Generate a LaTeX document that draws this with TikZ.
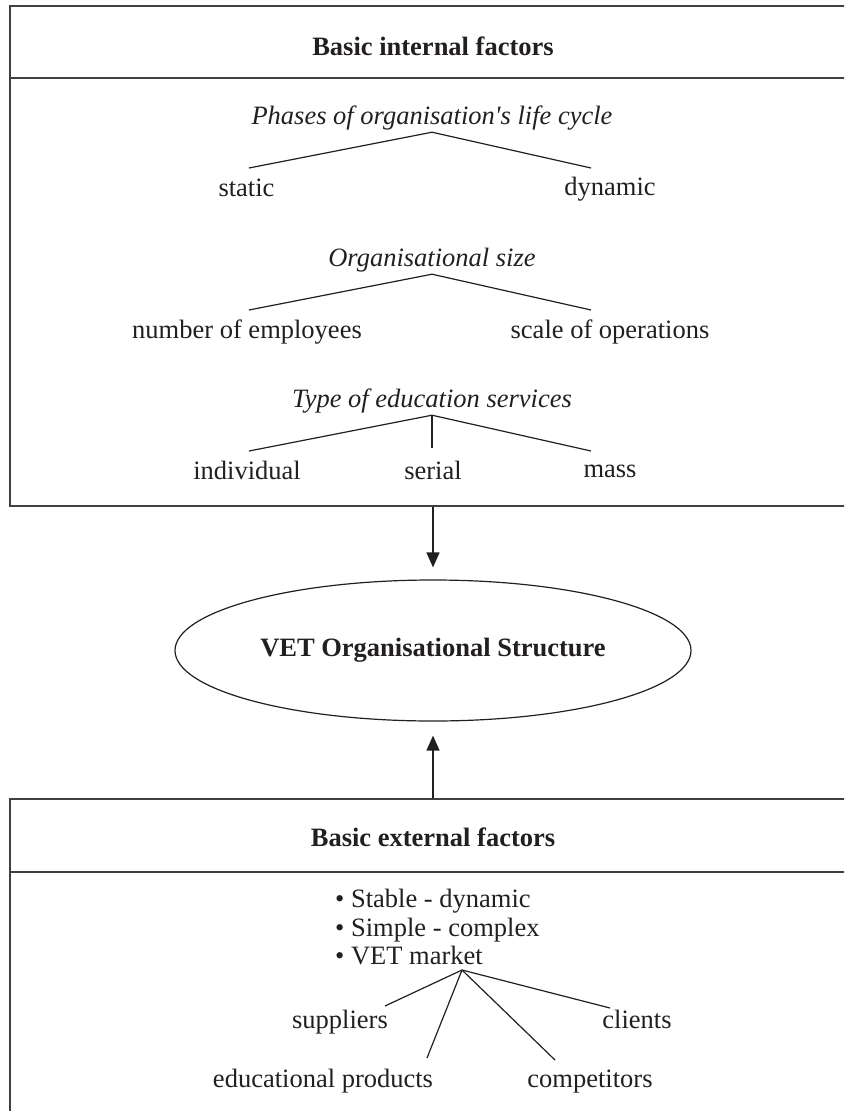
\documentclass[tikz,border=0pt]{standalone}
\usepackage{fontspec}
\setmainfont{Liberation Serif}[Ligatures=TeXOff]
\usetikzlibrary{arrows.meta,shapes.geometric}
\definecolor{ink}{HTML}{231F20}
\definecolor{frame}{HTML}{404040}
\begin{document}
\begin{tikzpicture}[x=1pt,y=-1pt,
  every node/.style={inner sep=0pt, text=ink, font=\fontsize{26.5pt}{32pt}\selectfont},
  panel/.style={draw=frame, line width=2pt, rectangle, minimum width=846pt},
  rule/.style={draw=frame, line width=2pt},
  head/.style={anchor=base, font=\fontsize{26.5pt}{32pt}\selectfont\bfseries},
  topic/.style={anchor=base, text depth=8pt, font=\fontsize{26.5pt}{32pt}\selectfont\itshape},
  leaf/.style={anchor=base},
  branch/.style={draw=ink, line width=1.2pt},
  flow/.style={draw=ink, line width=1.3pt, -{Triangle[length=15pt,width=13pt]}}
]
\useasboundingbox (0,0) rectangle (844,1111);
\clip (0,0) rectangle (844,1111);

% ---- internal factors panel ----
\node[panel, minimum height=500pt] (internal) at (433,256) {};
\coordinate (cut1) at (0,78);
\draw[rule] (internal.west |- cut1) -- (internal.east |- cut1);
\node[head] (intitle) at (433,55) {Basic internal factors};

\node[topic] (phases) at (432,124) {Phases of organisation's life cycle};
\node[leaf] (static) at (246.5,196) {static};
\node[leaf] (dynamic) at (610,195) {dynamic};
\draw[branch] ([shift={(2.5,-28)}]static.base) -- (phases.south) -- ([shift={(-19,-27)}]dynamic.base);

\node[topic] (size) at (432,266) {Organisational size};
\node[leaf] (employees) at (247,338) {number of employees};
\node[leaf] (operations) at (610,338) {scale of operations};
\draw[branch] ([shift={(2,-28)}]employees.base) -- (size.south) -- ([shift={(-19,-28)}]operations.base);

\node[topic] (services) at (432,407) {Type of education services};
\node[leaf] (individual) at (247,479) {individual};
\node[leaf] (serial) at (433,479) {serial};
\node[leaf] (mass) at (610,477) {mass};
\draw[branch] ([shift={(2,-28)}]individual.base) -- (services.south) -- ([shift={(-19,-26)}]mass.base);
\draw[branch] (services.south) -- ([shift={(-1,-31)}]serial.base);

% ---- central structure ----
\node[draw=ink, line width=1.2pt, ellipse, minimum width=516pt, minimum height=141pt,
      font=\fontsize{26.5pt}{32pt}\selectfont\bfseries] (vet) at (433,650.5) {VET Organisational Structure};

% ---- external factors panel ----
\node[panel, minimum height=322pt] (external) at (433,960) {};
\coordinate (cut2) at (0,872);
\draw[rule] (external.west |- cut2) -- (external.east |- cut2);
\node[head] (extitle) at (433,846) {Basic external factors};

\node[leaf, anchor=base west] (b1) at (335,907) {• Stable - dynamic};
\node[leaf, anchor=base west] (b2) at (335,936) {• Simple - complex};
\node[leaf, anchor=base west] (b3) at (335,964) {• VET market};
\coordinate (market) at ([shift={(-21,6)}]b3.base east);

\node[leaf] (suppliers) at (340,1028) {suppliers};
\node[leaf] (clients) at (637,1028) {clients};
\node[leaf] (products) at (323,1087) {educational products};
\node[leaf] (competitors) at (590,1087) {competitors};
\draw[branch] (market) -- ([shift={(45,-22)}]suppliers.base);
\draw[branch] (market) -- ([shift={(104,-29)}]products.base);
\draw[branch] (market) -- ([shift={(-35,-27)}]competitors.base);
\draw[branch] (market) -- ([shift={(-27,-20)}]clients.base);

% ---- influences ----
\draw[flow, shorten >=12pt] (internal.south) -- (vet.north);
\draw[flow, shorten >=14pt] (external.north) -- (vet.south);
\end{tikzpicture}
\end{document}
